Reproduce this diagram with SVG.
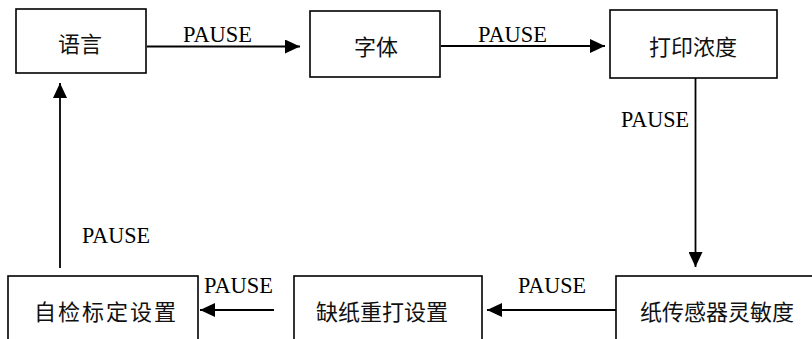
<svg xmlns="http://www.w3.org/2000/svg" width="812" height="339" viewBox="0 0 812 339">
<style>
.box{fill:#fff;stroke:#000;stroke-width:1.6}
.cn{font-family:"Noto Sans CJK SC","Noto Sans",sans-serif;font-size:22px;fill:#111;text-anchor:middle;dominant-baseline:central}
.lbl{font-family:"Liberation Serif","Times New Roman",serif;font-size:24px;fill:#000}
.con{stroke:#000;stroke-width:1.8;fill:none;marker-end:url(#ah)}
</style>
<defs>
<marker id="ah" viewBox="0 0 15 14" refX="15" refY="7" markerUnits="userSpaceOnUse" markerWidth="15" markerHeight="14" orient="auto">
<path d="M0,0 L15,7 L0,14 Z" fill="#000"/>
</marker>
</defs>
<rect width="812" height="339" fill="#fff"/>
<g id="n1"><rect class="box" x="16" y="9" width="130" height="64"/><text class="cn" x="80" y="42">语言</text></g>
<g id="n2"><rect class="box" x="310" y="11" width="130" height="66"/><text class="cn" x="376" y="45">字体</text></g>
<g id="n3"><rect class="box" x="610" y="10" width="167" height="68"/><text class="cn" x="693" y="45">打印浓度</text></g>
<g id="n4"><rect class="box" x="616" y="276" width="210" height="80"/><text class="cn" x="717" y="310">纸传感器灵敏度</text></g>
<g id="n5"><rect class="box" x="294" y="276" width="188" height="80"/><text class="cn" x="382" y="310">缺纸重打设置</text></g>
<g id="n6"><rect class="box" x="8" y="276" width="190" height="80"/><text class="cn" x="106" y="310" letter-spacing="2">自检标定设置</text></g>
<g id="connectors">
<line class="con" x1="147" y1="46.5" x2="300" y2="46.5"/>
<line class="con" x1="441" y1="46" x2="605" y2="46"/>
<line class="con" x1="695.5" y1="78" x2="695.5" y2="267"/>
<line class="con" x1="616" y1="310" x2="487" y2="310"/>
<line class="con" x1="274" y1="310" x2="200" y2="310"/>
<line class="con" x1="60" y1="268" x2="60" y2="83"/>
<text class="lbl" x="183" y="42" textLength="69" lengthAdjust="spacingAndGlyphs">PAUSE</text>
<text class="lbl" x="478" y="42" textLength="69" lengthAdjust="spacingAndGlyphs">PAUSE</text>
<text class="lbl" x="621" y="127" textLength="68" lengthAdjust="spacingAndGlyphs">PAUSE</text>
<text class="lbl" x="518" y="293" textLength="68" lengthAdjust="spacingAndGlyphs">PAUSE</text>
<text class="lbl" x="204" y="293" textLength="69" lengthAdjust="spacingAndGlyphs">PAUSE</text>
<text class="lbl" x="82" y="243" textLength="68" lengthAdjust="spacingAndGlyphs">PAUSE</text>
</g>
</svg>
